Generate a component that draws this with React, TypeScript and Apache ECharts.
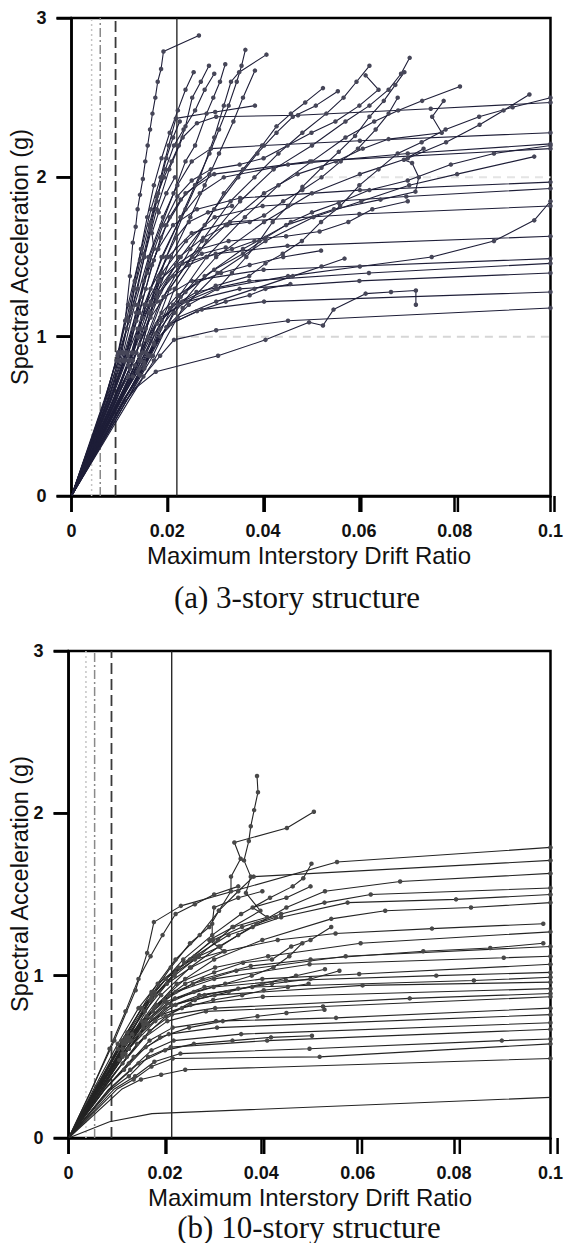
import React, { useEffect, useRef } from 'react';
import * as echarts from 'echarts';

const X_TICK_LABELS = ['0', '0.02', '0.04', '0.06', '0.08', '0.1'];
const Y_TICK_LABELS = ['0', '1', '2', '3'];
const X_MAX = 0.1;
const Y_MAX = 3;
const X_TITLE = 'Maximum Interstory Drift Ratio';
const Y_TITLE = 'Spectral Acceleration (g)';
const CAPTION_A = '(a) 3-story structure';
const CAPTION_B = '(b) 10-story structure';

const LIMITS_3 = [0.0042, 0.006, 0.0092, 0.022];
const LIMITS_10 = [0.0036, 0.0054, 0.0089, 0.0214];

const IDA_3: number[][][] = [
  [[0,0],[0.0035,0.3],[0.0071,0.6],[0.0098,0.9],[0.0112,1.1],[0.0122,1.38],[0.0128,1.59],[0.0134,1.69],[0.0138,1.8],[0.0143,1.89],[0.0149,1.99],[0.0154,2.1],[0.0159,2.2],[0.0164,2.3],[0.0169,2.4],[0.0175,2.5],[0.018,2.6],[0.0187,2.68],[0.0192,2.79],[0.0266,2.89]],
  [[0,0],[0.0038,0.3],[0.0076,0.6],[0.0105,0.9],[0.0124,1.18],[0.0143,1.48],[0.0162,1.7],[0.0178,1.88],[0.0193,2.0],[0.0209,2.1],[0.0224,2.2],[0.0238,2.32],[0.0252,2.5],[0.027,2.6],[0.0287,2.7]],
  [[0,0],[0.004,0.3],[0.0081,0.6],[0.0115,0.9],[0.0138,1.2],[0.0163,1.5],[0.0188,1.7],[0.0213,1.9],[0.0238,2.1],[0.0258,2.2],[0.0282,2.4],[0.0296,2.5],[0.031,2.6],[0.0321,2.71]],
  [[0,0],[0.0043,0.3],[0.0087,0.6],[0.0125,0.9],[0.0152,1.2],[0.019,1.5],[0.0228,1.75],[0.0258,1.95],[0.0288,2.15],[0.0308,2.3],[0.0328,2.45],[0.0345,2.6],[0.0355,2.7],[0.0363,2.8]],
  [[0,0],[0.0046,0.3],[0.0093,0.6],[0.0135,0.9],[0.0165,1.2],[0.0198,1.5],[0.0238,1.8],[0.0268,2.0],[0.0298,2.25],[0.0318,2.45],[0.0333,2.6],[0.035,2.66],[0.0407,2.77]],
  [[0,0],[0.005,0.3],[0.01,0.6],[0.0142,0.88],[0.017,1.2],[0.0208,1.5],[0.0248,1.75],[0.0278,1.95],[0.0308,2.15],[0.0338,2.35],[0.0358,2.5],[0.0383,2.67]],
  [[0,0],[0.0036,0.3],[0.007,0.6],[0.0097,0.9],[0.0118,1.2],[0.0146,1.55],[0.0166,1.8],[0.0186,2.0],[0.0203,2.2],[0.0218,2.37],[0.03,2.41],[0.0383,2.45]],
  [[0,0],[0.0037,0.3],[0.0074,0.6],[0.0102,0.9],[0.0124,1.15],[0.0152,1.5],[0.0178,1.8],[0.0204,2.05],[0.0232,2.25],[0.0262,2.34],[0.0302,2.38],[0.0473,2.39],[0.075,2.43],[0.1,2.47]],
  [[0,0],[0.0046,0.3],[0.0092,0.6],[0.0135,0.9],[0.0178,1.25],[0.0228,1.5],[0.0278,1.7],[0.0318,1.9],[0.0358,2.05],[0.0398,2.2],[0.0428,2.32],[0.0458,2.4],[0.0488,2.47],[0.0525,2.56]],
  [[0,0],[0.005,0.3],[0.0102,0.6],[0.0148,0.9],[0.0192,1.25],[0.0248,1.55],[0.0298,1.8],[0.0348,2.0],[0.0388,2.15],[0.0428,2.28],[0.0462,2.38],[0.051,2.45],[0.0556,2.54]],
  [[0,0],[0.0052,0.3],[0.0104,0.6],[0.0155,0.9],[0.0205,1.3],[0.0272,1.6],[0.0332,1.85],[0.0382,2.0],[0.0432,2.15],[0.0482,2.28],[0.0532,2.4],[0.0568,2.5],[0.0595,2.6],[0.0622,2.7]],
  [[0,0],[0.0055,0.3],[0.011,0.6],[0.016,0.88],[0.0215,1.3],[0.0282,1.6],[0.0352,1.85],[0.0422,2.05],[0.0502,2.2],[0.0572,2.35],[0.0622,2.45],[0.0662,2.55],[0.0688,2.65],[0.0706,2.75]],
  [[0,0],[0.0054,0.3],[0.0109,0.6],[0.0162,0.88],[0.0212,1.2],[0.0282,1.5],[0.0362,1.75],[0.0432,1.95],[0.0502,2.1],[0.0572,2.25],[0.0632,2.35],[0.0682,2.42],[0.0732,2.48],[0.0811,2.57]],
  [[0,0],[0.0048,0.3],[0.0097,0.6],[0.0142,0.88],[0.0185,1.22],[0.0252,1.5],[0.0322,1.7],[0.0402,1.9],[0.0472,2.02],[0.0552,2.1],[0.0608,2.18],[0.0662,2.24],[0.0773,2.28],[0.0753,2.38],[0.0777,2.48]],
  [[0,0],[0.0058,0.3],[0.0115,0.6],[0.017,0.88],[0.0228,1.25],[0.0302,1.5],[0.0402,1.72],[0.0502,1.9],[0.0602,2.02],[0.0702,2.12],[0.0782,2.22],[0.0852,2.33],[0.0902,2.42],[0.0956,2.52]],
  [[0,0],[0.006,0.3],[0.012,0.6],[0.0172,0.85],[0.0232,1.18],[0.0305,1.4],[0.0405,1.6],[0.0505,1.75],[0.0605,1.85],[0.0705,1.95],[0.0805,2.02],[0.0966,2.13]],
  [[0,0],[0.0038,0.3],[0.0077,0.6],[0.0108,0.9],[0.0132,1.2],[0.0161,1.5],[0.0191,1.75],[0.0221,1.95],[0.0251,2.1],[0.0291,2.18],[0.0402,2.2],[0.0602,2.23],[0.1,2.28]],
  [[0,0],[0.0044,0.3],[0.0088,0.6],[0.0128,0.9],[0.0155,1.2],[0.0188,1.5],[0.0228,1.75],[0.0268,1.9],[0.0318,2.0],[0.0452,2.08],[0.0702,2.15],[0.1,2.21]],
  [[0,0],[0.004,0.3],[0.008,0.6],[0.0115,0.9],[0.0142,1.15],[0.0168,1.45],[0.0198,1.7],[0.0238,1.9],[0.0298,2.02],[0.0498,2.1],[0.1,2.18]],
  [[0,0],[0.0042,0.3],[0.0083,0.6],[0.0118,0.88],[0.0135,1.1],[0.0151,1.35],[0.0181,1.55],[0.0212,1.7],[0.0262,1.8],[0.0352,1.87],[0.0602,1.92],[0.1,1.97]],
  [[0,0],[0.0048,0.3],[0.0097,0.6],[0.0142,0.88],[0.0165,1.15],[0.0189,1.4],[0.0239,1.6],[0.0299,1.75],[0.0399,1.82],[0.0699,1.88],[0.1,1.93]],
  [[0,0],[0.0043,0.3],[0.0086,0.6],[0.0122,0.85],[0.0142,1.05],[0.0165,1.3],[0.0201,1.5],[0.0251,1.65],[0.0331,1.72],[0.0601,1.77],[0.1,1.82]],
  [[0,0],[0.0044,0.3],[0.0088,0.6],[0.0122,0.8],[0.0138,1.0],[0.0155,1.2],[0.0181,1.35],[0.0221,1.45],[0.0301,1.52],[0.0451,1.57],[0.1,1.63]],
  [[0,0],[0.0055,0.3],[0.011,0.6],[0.0152,0.8],[0.0185,1.05],[0.0222,1.2],[0.0302,1.3],[0.0452,1.38],[0.0602,1.44],[0.0752,1.5],[0.0882,1.6],[0.0966,1.73],[0.1,1.85]],
  [[0,0],[0.0045,0.3],[0.0091,0.6],[0.0118,0.75],[0.0142,0.95],[0.0165,1.12],[0.0195,1.25],[0.0251,1.35],[0.0401,1.42],[0.1,1.49]],
  [[0,0],[0.0052,0.3],[0.0103,0.6],[0.0142,0.8],[0.0175,1.02],[0.0205,1.18],[0.0261,1.28],[0.0371,1.35],[0.0621,1.4],[0.1,1.46]],
  [[0,0],[0.0048,0.3],[0.0097,0.6],[0.0128,0.75],[0.0158,0.98],[0.0185,1.12],[0.0241,1.22],[0.0351,1.3],[0.0601,1.35],[0.1,1.4]],
  [[0,0],[0.0054,0.3],[0.0107,0.6],[0.0142,0.76],[0.0172,0.95],[0.0205,1.08],[0.0272,1.17],[0.0402,1.22],[0.1,1.28]],
  [[0,0],[0.0055,0.3],[0.0108,0.58],[0.0135,0.68],[0.0176,0.78],[0.0306,0.88],[0.0405,0.98],[0.0496,1.09],[0.0525,1.07],[0.0547,1.17],[0.0614,1.27],[0.0667,1.28],[0.0719,1.29],[0.0719,1.2]],
  [[0,0],[0.0058,0.3],[0.0115,0.6],[0.015,0.75],[0.0185,0.88],[0.0214,0.98],[0.0302,1.04],[0.0452,1.1],[0.1,1.18]],
  [[0,0],[0.0056,0.3],[0.011,0.6],[0.0152,0.82],[0.0185,1.0],[0.0222,1.12],[0.0302,1.22],[0.0382,1.3],[0.0462,1.38],[0.0522,1.44],[0.057,1.49]],
  [[0,0],[0.005,0.3],[0.01,0.6],[0.0142,0.85],[0.0178,1.08],[0.0231,1.22],[0.0301,1.32],[0.0371,1.38],[0.0405,1.46],[0.0441,1.52],[0.0481,1.6],[0.0521,1.72],[0.0561,1.82],[0.0601,1.95],[0.0641,2.05],[0.0681,2.15],[0.0731,2.22],[0.0781,2.3],[0.0851,2.38],[0.0921,2.44],[0.1,2.5]],
  [[0,0],[0.0052,0.3],[0.0103,0.6],[0.0145,0.85],[0.0188,1.1],[0.0238,1.28],[0.0298,1.42],[0.0358,1.52],[0.0405,1.62],[0.0458,1.72],[0.0502,1.78],[0.0558,1.84],[0.0622,1.92],[0.0702,1.98],[0.0792,2.08],[0.0882,2.15],[0.1,2.2]],
  [[0,0],[0.0058,0.3],[0.0115,0.6],[0.0165,0.88],[0.0215,1.15],[0.0278,1.38],[0.0358,1.55],[0.0448,1.7],[0.0548,1.8],[0.0645,1.86],[0.0718,1.91],[0.0725,2.0],[0.0711,2.09],[0.0694,2.11],[0.0735,2.18]],
  [[0,0],[0.004,0.3],[0.008,0.6],[0.0112,0.85],[0.0138,1.05],[0.0178,1.28],[0.0218,1.45],[0.0268,1.55],[0.0328,1.6],[0.0448,1.63],[0.0518,1.66],[0.0578,1.72],[0.0628,1.8],[0.0702,1.85]],
  [[0,0],[0.0034,0.3],[0.0068,0.6],[0.0094,0.85],[0.0115,1.05],[0.0131,1.3],[0.0151,1.52],[0.0166,1.72],[0.0181,1.9],[0.0196,2.05],[0.0214,2.2],[0.0234,2.3],[0.0258,2.42],[0.0278,2.55],[0.0298,2.65]],
  [[0,0],[0.0037,0.3],[0.0075,0.6],[0.0106,0.85],[0.0135,1.15],[0.0161,1.45],[0.0191,1.7],[0.0221,1.88],[0.0251,1.98],[0.0291,2.05],[0.0351,2.08],[0.0401,2.12],[0.0451,2.2],[0.0501,2.28],[0.0551,2.35],[0.0601,2.45],[0.0641,2.55],[0.0614,2.64]],
  [[0,0],[0.0043,0.3],[0.0086,0.6],[0.012,0.85],[0.0148,1.12],[0.0185,1.35],[0.0225,1.5],[0.0275,1.62],[0.0325,1.7],[0.0372,1.72],[0.0402,1.76],[0.0442,1.85],[0.0482,1.92],[0.0522,2.0],[0.0562,2.1],[0.0598,2.18],[0.0635,2.3],[0.0662,2.4],[0.0681,2.5]],
  [[0,0],[0.005,0.3],[0.01,0.6],[0.0138,0.78],[0.0172,0.96],[0.0207,1.08],[0.0262,1.16],[0.0322,1.22],[0.0372,1.26],[0.0405,1.3],[0.0457,1.33]],
  [[0,0],[0.0055,0.3],[0.011,0.6],[0.0152,0.84],[0.0198,1.06],[0.0245,1.2],[0.0305,1.3],[0.0335,1.4],[0.0365,1.5],[0.0392,1.6],[0.042,1.72],[0.0452,1.82],[0.0482,1.94],[0.0522,2.06],[0.0558,2.16],[0.0592,2.26],[0.0622,2.38],[0.0652,2.48],[0.0676,2.58],[0.0695,2.66]],
  [[0,0],[0.0036,0.3],[0.0072,0.6],[0.0098,0.85],[0.012,1.1],[0.0138,1.3],[0.0152,1.5],[0.0165,1.68],[0.0178,1.85],[0.0188,2.0],[0.0198,2.12],[0.0212,2.25],[0.0226,2.35]],
  [[0,0],[0.0041,0.3],[0.0082,0.6],[0.0112,0.85],[0.0135,1.1],[0.0155,1.3],[0.0172,1.48],[0.0186,1.62],[0.0205,1.75],[0.0228,1.86],[0.0258,1.95],[0.0288,2.02]],
  [[0,0],[0.0039,0.3],[0.0078,0.6],[0.0108,0.85],[0.0128,1.05],[0.0145,1.25],[0.0158,1.4],[0.0172,1.55],[0.0168,1.65],[0.0182,1.78],[0.0198,1.9],[0.0216,2.0]],
  [[0,0],[0.0045,0.3],[0.009,0.6],[0.0122,0.85],[0.0145,1.05],[0.0165,1.22],[0.0182,1.38],[0.0198,1.5],[0.0218,1.62],[0.0245,1.72],[0.0285,1.78],[0.0335,1.82]],
  [[0,0],[0.0047,0.3],[0.0094,0.6],[0.0128,0.85],[0.0155,1.05],[0.0178,1.22],[0.0202,1.36],[0.0232,1.46],[0.0272,1.52],[0.0322,1.56]],
  [[0,0],[0.0035,0.3],[0.0069,0.6],[0.0096,0.88],[0.0116,1.12],[0.0132,1.35],[0.0145,1.55],[0.0158,1.75],[0.0172,1.95],[0.0188,2.12],[0.0205,2.28],[0.0222,2.42],[0.0238,2.55],[0.0255,2.66]],
  [[0,0],[0.0043,0.3],[0.0087,0.6],[0.0118,0.82],[0.0142,1.0],[0.0162,1.15],[0.0185,1.28],[0.0212,1.38],[0.0245,1.45],[0.0282,1.5],[0.0335,1.55],[0.0382,1.6]],
  [[0,0],[0.0049,0.3],[0.0098,0.6],[0.0132,0.82],[0.016,1.0],[0.0188,1.15],[0.0222,1.26],[0.0262,1.34],[0.0312,1.4],[0.0372,1.45],[0.0442,1.5],[0.0521,1.54]],
];

const IDA_10: number[][][] = [
  [[0,0],[0.006,0.3],[0.012,0.6],[0.017,0.85],[0.022,1.0],[0.027,1.12],[0.031,1.22],[0.034,1.3],[0.0398,1.4],[0.0368,1.51],[0.0378,1.61],[0.0364,1.71],[0.0374,1.83],[0.0378,1.92],[0.0385,2.02],[0.0393,2.13],[0.0391,2.23]],
  [[0,0],[0.0065,0.32],[0.0125,0.62],[0.0172,0.88],[0.0212,1.05],[0.0252,1.2],[0.0292,1.3],[0.0312,1.4],[0.0337,1.52],[0.0337,1.61],[0.0357,1.72],[0.0344,1.82],[0.0453,1.91],[0.0509,2.01]],
  [[0,0],[0.0048,0.3],[0.0095,0.6],[0.0139,0.91],[0.0163,1.14],[0.0177,1.33],[0.0233,1.43],[0.0557,1.7],[0.1,1.79]],
  [[0,0],[0.0062,0.32],[0.0122,0.65],[0.0172,0.9],[0.0222,1.1],[0.0272,1.25],[0.0312,1.4],[0.0352,1.52],[0.0384,1.61],[0.1,1.71]],
  [[0,0],[0.0058,0.32],[0.0118,0.62],[0.0178,0.9],[0.0238,1.1],[0.0298,1.25],[0.0358,1.38],[0.0418,1.48],[0.0465,1.55],[0.0487,1.6],[0.0504,1.69]],
  [[0,0],[0.0068,0.33],[0.0132,0.64],[0.0192,0.88],[0.0252,1.05],[0.0312,1.18],[0.0382,1.3],[0.0452,1.42],[0.0532,1.52],[0.0688,1.58],[0.1,1.63]],
  [[0,0],[0.0062,0.3],[0.0125,0.6],[0.018,0.88],[0.024,1.08],[0.03,1.22],[0.036,1.3],[0.0441,1.38],[0.0531,1.45],[0.0627,1.5],[0.1,1.54]],
  [[0,0],[0.0055,0.3],[0.011,0.6],[0.0152,0.8],[0.0202,0.98],[0.0262,1.12],[0.0332,1.25],[0.0441,1.36],[0.0579,1.45],[0.0804,1.47],[0.1,1.5]],
  [[0,0],[0.0062,0.3],[0.0125,0.6],[0.0182,0.82],[0.0242,0.98],[0.0302,1.1],[0.0402,1.22],[0.0545,1.35],[0.0657,1.4],[0.0835,1.42],[0.1,1.45]],
  [[0,0],[0.0058,0.3],[0.0115,0.6],[0.0158,0.78],[0.0204,0.95],[0.0254,1.05],[0.0324,1.15],[0.0434,1.22],[0.0554,1.26],[0.0754,1.29],[0.0985,1.32]],
  [[0,0],[0.0065,0.3],[0.013,0.6],[0.0178,0.8],[0.0224,0.95],[0.0304,1.05],[0.0414,1.12],[0.0606,1.2],[0.1,1.27]],
  [[0,0],[0.006,0.3],[0.0118,0.58],[0.0162,0.75],[0.0208,0.88],[0.0278,0.98],[0.0378,1.06],[0.0502,1.1],[0.0736,1.15],[0.0875,1.17],[0.0985,1.2]],
  [[0,0],[0.0057,0.3],[0.0112,0.58],[0.0152,0.72],[0.0198,0.85],[0.0258,0.95],[0.0348,1.03],[0.0575,1.12],[0.1,1.18]],
  [[0,0],[0.0062,0.3],[0.0125,0.6],[0.0175,0.78],[0.0222,0.9],[0.0302,0.98],[0.05,1.07],[0.0903,1.11],[0.1,1.12]],
  [[0,0],[0.006,0.3],[0.0112,0.52],[0.0155,0.7],[0.0202,0.84],[0.0282,0.93],[0.0402,0.98],[0.0603,1.01],[0.1,1.07]],
  [[0,0],[0.0065,0.3],[0.0125,0.55],[0.0172,0.74],[0.0221,0.86],[0.0301,0.93],[0.0451,0.97],[0.0763,1.0],[0.1,1.02]],
  [[0,0],[0.006,0.3],[0.0112,0.52],[0.0155,0.68],[0.0201,0.8],[0.0271,0.88],[0.0381,0.93],[0.0841,0.97],[0.1,0.99]],
  [[0,0],[0.0068,0.3],[0.0118,0.52],[0.0165,0.7],[0.0213,0.82],[0.0303,0.88],[0.061,0.94],[0.1,0.96]],
  [[0,0],[0.0064,0.3],[0.0105,0.48],[0.0148,0.64],[0.0193,0.76],[0.0253,0.82],[0.0403,0.87],[0.1,0.92]],
  [[0,0],[0.0071,0.3],[0.0121,0.5],[0.0168,0.66],[0.0214,0.76],[0.0304,0.8],[0.0708,0.86],[0.1,0.89]],
  [[0,0],[0.0068,0.3],[0.0112,0.46],[0.0158,0.62],[0.0205,0.72],[0.0285,0.78],[0.0528,0.81],[0.1,0.87]],
  [[0,0],[0.0075,0.3],[0.0125,0.46],[0.0168,0.6],[0.0216,0.68],[0.0306,0.72],[0.0555,0.74],[0.1,0.8]],
  [[0,0],[0.0075,0.3],[0.0115,0.42],[0.016,0.56],[0.0208,0.64],[0.0308,0.68],[0.1,0.76]],
  [[0,0],[0.0083,0.3],[0.0128,0.42],[0.0172,0.54],[0.0218,0.6],[0.0358,0.64],[0.1,0.71]],
  [[0,0],[0.0088,0.3],[0.0125,0.38],[0.0165,0.5],[0.0212,0.56],[0.0412,0.6],[0.1,0.67]],
  [[0,0],[0.0094,0.3],[0.0138,0.38],[0.0178,0.47],[0.0232,0.52],[0.05,0.55],[0.0899,0.6],[0.1,0.61]],
  [[0,0],[0.01,0.3],[0.0135,0.36],[0.0172,0.44],[0.0216,0.49],[0.0521,0.5],[0.1,0.58]],
  [[0,0],[0.011,0.3],[0.015,0.36],[0.0192,0.39],[0.0242,0.42],[0.1,0.49]],
  [[0,0],[0.0085,0.1],[0.0173,0.15],[0.1,0.25]],
  [[0,0],[0.0062,0.3],[0.0122,0.62],[0.0172,0.86],[0.0222,1.02],[0.0262,1.1],[0.0322,1.15],[0.0292,1.22],[0.0342,1.3],[0.0412,1.36],[0.0382,1.42],[0.0452,1.48],[0.0502,1.55]],
  [[0,0],[0.0052,0.28],[0.0102,0.55],[0.0152,0.8],[0.0202,0.98],[0.0252,1.1],[0.0298,1.22],[0.0298,1.32],[0.0302,1.42],[0.0352,1.48],[0.0402,1.52]],
  [[0,0],[0.0062,0.3],[0.0122,0.6],[0.0182,0.82],[0.0242,0.95],[0.0302,1.02],[0.0362,1.08],[0.0422,1.1],[0.0462,1.18],[0.0502,1.22],[0.0545,1.3]],
  [[0,0],[0.0058,0.25],[0.0112,0.5],[0.0162,0.7],[0.0222,0.82],[0.0282,0.88],[0.0352,0.92],[0.0422,0.95],[0.0502,0.98],[0.0562,1.03]],
  [[0,0],[0.0045,0.28],[0.0085,0.55],[0.0118,0.78],[0.0145,0.98],[0.017,1.12],[0.0195,1.25],[0.0222,1.38],[0.0262,1.44],[0.0302,1.5],[0.0352,1.55]],
  [[0,0],[0.0072,0.3],[0.0142,0.58],[0.0202,0.75],[0.0262,0.85],[0.0332,0.9],[0.0402,0.95],[0.0472,1.0],[0.0532,1.04]],
  [[0,0],[0.0065,0.3],[0.0125,0.55],[0.018,0.72],[0.0235,0.8],[0.03,0.85],[0.036,0.88],[0.0405,0.91],[0.0455,0.93],[0.0498,0.95]],
  [[0,0],[0.0075,0.3],[0.0135,0.5],[0.019,0.62],[0.025,0.68],[0.032,0.72],[0.0392,0.75],[0.0452,0.77],[0.0531,0.79]],
  [[0,0],[0.0058,0.3],[0.0112,0.55],[0.016,0.72],[0.0205,0.83],[0.026,0.9],[0.0325,0.95],[0.038,1.0],[0.0425,1.05],[0.0458,1.12],[0.0485,1.2]],
  [[0,0],[0.0052,0.3],[0.0102,0.58],[0.0145,0.8],[0.0185,0.95],[0.0228,1.05],[0.027,1.12],[0.0315,1.18],[0.0352,1.25],[0.039,1.32],[0.043,1.36]],
  [[0,0],[0.0085,0.3],[0.0145,0.46],[0.02,0.54],[0.026,0.58],[0.034,0.6],[0.042,0.62],[0.0505,0.63]],
];

// faint dashed horizontals in panel (a): [Sa, from drift]
const FAINT_3 = [[1, 0.022], [2, 0.05]];

const LIMIT_STYLES = [
  { color: '#c4c4c4', width: 1.5, type: [2, 3] },
  { color: '#8a8a8a', width: 1.5, type: [9, 3, 2, 3] },
  { color: '#3a3a3a', width: 1.8, type: [11, 5] },
  { color: '#1a1a1a', width: 1.3, type: 'solid' },
];

const FONT_SANS = '"Liberation Sans", Arial, sans-serif';
const FONT_SERIF = '"Liberation Serif", "Times New Roman", serif';

interface GridBox { left: number; top: number; width: number; height: number }
interface PanelProps {
  top: number; height: number; grid: GridBox;
  curves: number[][][]; limits: number[]; faint: number[][];
  lineColor: string; dotColor: string; hideBelow: number;
  caption: string;
  xTitleAt: number[]; yTitleAt: number[]; captionAt: number[];
}

function textEl(text: string, x: number, y: number, font: string, rotation = 0) {
  return {
    type: 'text', x, y, rotation, z: 10,
    style: { text, font, fill: '#111', align: 'center', verticalAlign: 'middle', textAlign: 'center', textVerticalAlign: 'middle' },
  };
}

// outward tick marks along the frame, spaced like the axis ticks
function frameTicks(g: GridBox) {
  const els: any[] = [];
  const bottom = g.top + g.height;
  X_TICK_LABELS.forEach((lab) => {
    const x = g.left + (Number(lab) / X_MAX) * g.width;
    els.push({ type: 'line', z: 20, shape: { x1: x, y1: bottom, x2: x, y2: bottom + 16 }, style: { stroke: '#000', lineWidth: 2.5 } });
  });
  Y_TICK_LABELS.forEach((lab) => {
    const y = bottom - (Number(lab) / Y_MAX) * g.height;
    els.push({ type: 'line', z: 20, shape: { x1: g.left - 15, y1: y, x2: g.left, y2: y }, style: { stroke: '#000', lineWidth: 2.5 } });
  });
  return els;
}

function Panel(p: PanelProps) {
  const ref = useRef<HTMLDivElement>(null);
  useEffect(() => {
    const chart = echarts.init(ref.current!, null, { renderer: 'svg' });
    const series: any[] = [];
    p.faint.forEach(([sa, from], i) => {
      series.push({
        type: 'line', data: [[from, sa], [X_MAX, sa]], symbol: 'none', silent: true, z: 1,
        lineStyle: { color: i === 0 ? '#d6d6d6' : '#e4e4e4', width: 2, type: [8, 6] },
      });
    });
    p.limits.forEach((x, i) => {
      series.push({ type: 'line', data: [[x, 0], [x, Y_MAX]], symbol: 'none', silent: true, z: 2, lineStyle: { ...LIMIT_STYLES[i] } });
    });
    p.curves.forEach((c) => {
      series.push({
        type: 'line', data: c, symbol: 'circle',
        symbolSize: (v: number[]) => (v[1] < p.hideBelow ? 0 : 4.5),
        showSymbol: true, silent: true, z: 3,
        lineStyle: { color: p.lineColor, width: 1.1 },
        itemStyle: { color: p.dotColor },
      });
    });
    chart.setOption({
      animation: false,
      backgroundColor: '#fff',
      grid: { ...p.grid, show: true, borderColor: '#000', borderWidth: 2.5 },
      xAxis: {
        type: 'value', min: 0, max: X_MAX, interval: 0.02,
        axisLine: { show: true, lineStyle: { color: '#000', width: 2.5 } },
        axisTick: { show: true, length: 16, lineStyle: { color: '#000', width: 2.5 } },
        axisLabel: {
          margin: 26, color: '#111', fontFamily: FONT_SANS, fontWeight: 'bold', fontSize: 18,
          formatter: (v: number) => X_TICK_LABELS[Math.round(v / 0.02)] ?? '',
        },
        splitLine: { show: true, lineStyle: { color: 'rgba(0,0,0,0)' } },
      },
      yAxis: {
        type: 'value', min: 0, max: Y_MAX, interval: 1,
        axisLine: { show: true, lineStyle: { color: '#000', width: 2.5 } },
        axisTick: { show: true, length: 15, lineStyle: { color: '#000', width: 2.5 } },
        axisLabel: {
          margin: 25, color: '#111', fontFamily: FONT_SANS, fontWeight: 'bold', fontSize: 18,
          formatter: (v: number) => Y_TICK_LABELS[Math.round(v)] ?? '',
        },
        splitLine: { show: true, lineStyle: { color: 'rgba(0,0,0,0)' } },
      },
      series,
      graphic: { elements: [
        textEl(X_TITLE, p.xTitleAt[0], p.xTitleAt[1], `24px ${FONT_SANS}`),
        textEl(Y_TITLE, p.yTitleAt[0], p.yTitleAt[1], `23.5px ${FONT_SANS}`, Math.PI / 2),
        textEl(p.caption, p.captionAt[0], p.captionAt[1], `31px ${FONT_SERIF}`),
        ...frameTicks(p.grid),
      ] },
    } as any);
    return () => chart.dispose();
  }, []);
  return <div ref={ref} style={{ position: 'absolute', left: 0, top: p.top, width: 566, height: p.height }} />;
}

export default function App() {
  return (
    <div style={{ position: 'absolute', left: 0, top: 0, width: 566, height: 1243, background: '#fff' }}>
      <Panel
        top={0} height={620}
        grid={{ left: 71.5, top: 18, width: 483, height: 478 }}
        curves={IDA_3} limits={LIMITS_3} faint={FAINT_3}
        lineColor="#1e1e38" dotColor="#464658" hideBelow={0.75}
        caption={CAPTION_A}
        xTitleAt={[309, 555]} yTitleAt={[20, 257]} captionAt={[297, 597]}
      />
      <Panel
        top={620} height={623}
        grid={{ left: 68.6, top: 31, width: 489, height: 487 }}
        curves={IDA_10} limits={LIMITS_10} faint={[]}
        lineColor="#242424" dotColor="#484848" hideBelow={0.35}
        caption={CAPTION_B}
        xTitleAt={[310, 577]} yTitleAt={[20, 264]} captionAt={[309, 607]}
      />
    </div>
  );
}
